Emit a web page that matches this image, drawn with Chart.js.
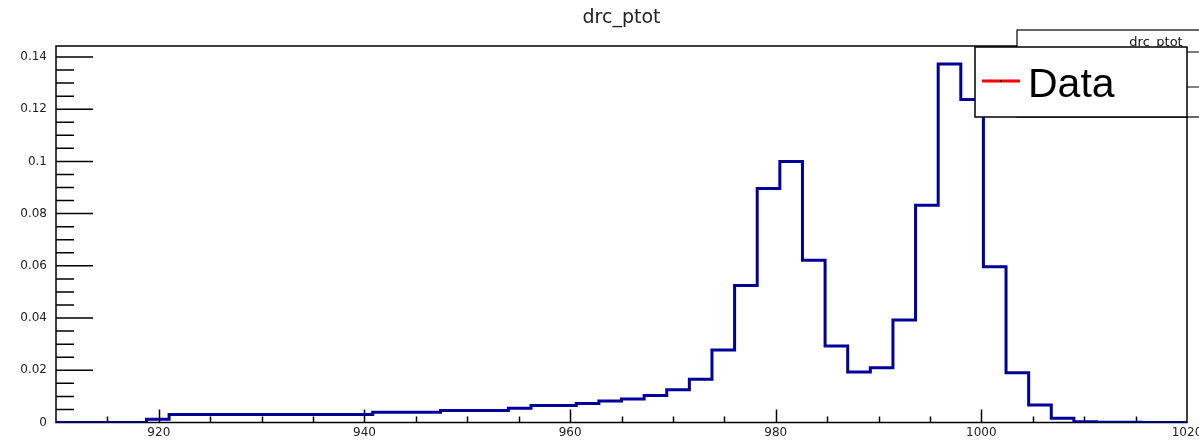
<!DOCTYPE html>
<html>
<head>
<meta charset="utf-8">
<script src="https://cdn.jsdelivr.net/npm/chart.js@4.4.0/dist/chart.umd.min.js"></script>
<style>
  html, body { margin: 0; padding: 0; background: #fff; }
</style>
</head>
<body>
<canvas id="histo" width="1199" height="441"></canvas>
<script>
// histogram drc_ptot, 50 bins from 910 to 1020
const histName = 'drc_ptot';
const legendLabel = 'Data';
const binLow = 910;
const binWidth = 2.2;
const binValues = [
  0, 0, 0, 0, 0.0012,
  0.0031, 0.0031, 0.0031, 0.0031, 0.0031, 0.0031, 0.0031, 0.0031, 0.0031,
  0.0039, 0.0039, 0.0039,
  0.0046, 0.0046, 0.0046,
  0.0055, 0.0065, 0.0065, 0.0073, 0.0082, 0.0090, 0.0103, 0.0125, 0.0166, 0.0278,
  0.0525, 0.0896, 0.1000, 0.0621, 0.0293, 0.0193, 0.0210, 0.0393, 0.0832, 0.1373,
  0.1237, 0.0597, 0.0191, 0.0067, 0.0016, 0.0003, 0.0001, 0.0001, 0, 0
];
const xRange = [910, 1020];
const yRange = [0, 0.1442];
const xTickLabels = [920, 940, 960, 980, 1000, 1020];
const yTickLabels = [0, 0.02, 0.04, 0.06, 0.08, 0.1, 0.12, 0.14];
const xMinorStep = 5;
const yMinorStep = 0.005;

const points = binValues.map((v, i) => ({ x: binLow + i * binWidth, y: v }));
points.push({ x: binLow + binValues.length * binWidth, y: binValues[binValues.length - 1] });

// ROOT style frame with ticks pointing inside
const rootFrame = {
  id: 'rootFrame',
  beforeDatasetsDraw(chart) {
    const { ctx, chartArea: a, scales: { x, y } } = chart;
    ctx.save();
    ctx.strokeStyle = '#000';
    ctx.lineWidth = 1.5;
    ctx.strokeRect(a.left, a.top, a.right - a.left, a.bottom - a.top);
    ctx.beginPath();
    for (let v = xRange[0] + xMinorStep; v < xRange[1]; v += xMinorStep) {
      const px = Math.round(x.getPixelForValue(v)) + 0.5;
      const len = xTickLabels.includes(v) ? 13 : 6;
      ctx.moveTo(px, a.bottom);
      ctx.lineTo(px, a.bottom - len);
    }
    for (let i = 1; i * yMinorStep < yRange[1]; i++) {
      const py = y.getPixelForValue(i * yMinorStep);
      const len = i % 4 === 0 ? 37 : 18;
      ctx.moveTo(a.left, py);
      ctx.lineTo(a.left + len, py);
    }
    ctx.stroke();
    ctx.restore();
  },
  afterDraw(chart) {
    const { ctx } = chart;
    ctx.save();
    // stats box (mostly hidden)
    ctx.fillStyle = '#fff';
    ctx.strokeStyle = '#000';
    ctx.lineWidth = 1.2;
    ctx.fillRect(1017, 30, 200, 87);
    ctx.strokeRect(1017, 30, 200, 87);
    ctx.beginPath();
    ctx.moveTo(1017, 52); ctx.lineTo(1199, 52);
    ctx.moveTo(1017, 87); ctx.lineTo(1199, 87);
    ctx.stroke();
    ctx.fillStyle = '#111';
    ctx.font = '13px "DejaVu Sans"';
    ctx.textAlign = 'center';
    ctx.textBaseline = 'alphabetic';
    ctx.fillText(histName, 1156, 46);
    // legend
    ctx.fillStyle = '#fff';
    ctx.fillRect(975, 47, 212, 70);
    ctx.lineWidth = 1.5;
    ctx.strokeRect(975, 47, 212, 70);
    ctx.strokeStyle = '#ff0000';
    ctx.lineWidth = 3;
    ctx.beginPath();
    ctx.moveTo(982, 81); ctx.lineTo(1020, 81);
    ctx.stroke();
    ctx.fillStyle = '#000';
    ctx.fillRect(1000, 80, 2, 2);
    ctx.font = '41px "Liberation Sans"';
    ctx.textAlign = 'left';
    ctx.fillText(legendLabel, 1028, 97);
    ctx.restore();
  }
};

new Chart(document.getElementById('histo'), {
  type: 'line',
  data: {
    datasets: [{
      label: legendLabel,
      data: points,
      stepped: 'before',
      borderColor: '#00009c',
      borderWidth: 3,
      borderJoinStyle: 'miter',
      pointRadius: 0,
      fill: false
    }]
  },
  options: {
    responsive: false,
    animation: false,
    devicePixelRatio: 1,
    layout: { padding: { left: 0, right: 12, top: 0, bottom: 0 } },
    scales: {
      x: {
        type: 'linear',
        min: xRange[0],
        max: xRange[1],
        afterBuildTicks: s => { s.ticks = xTickLabels.map(v => ({ value: v })); },
        afterFit: s => { s.height = 18.5; s.paddingLeft = 0; s.paddingRight = 0; },
        grid: { display: false, drawTicks: false },
        border: { display: false },
        ticks: {
          font: { family: 'DejaVu Sans', size: 12 },
          color: '#222',
          padding: 3,
          maxRotation: 0,
          autoSkip: false,
          callback: v => String(v)
        }
      },
      y: {
        min: yRange[0],
        max: yRange[1],
        afterBuildTicks: s => { s.ticks = yTickLabels.map(v => ({ value: v })); },
        afterFit: s => { s.width = 56; s.paddingTop = 0; s.paddingBottom = 0; },
        grid: { display: false, drawTicks: false },
        border: { display: false },
        ticks: {
          font: { family: 'DejaVu Sans', size: 12 },
          color: '#222',
          padding: 9,
          callback: v => String(+v.toFixed(2))
        }
      }
    },
    plugins: {
      legend: { display: false },
      tooltip: { enabled: false },
      title: {
        display: true,
        text: histName,
        fullSize: false,
        color: '#222',
        font: { family: 'DejaVu Sans', size: 19, weight: 'normal' },
        padding: { top: 7, bottom: 16.2 }
      }
    }
  },
  plugins: [rootFrame]
});
</script>
</body>
</html>
